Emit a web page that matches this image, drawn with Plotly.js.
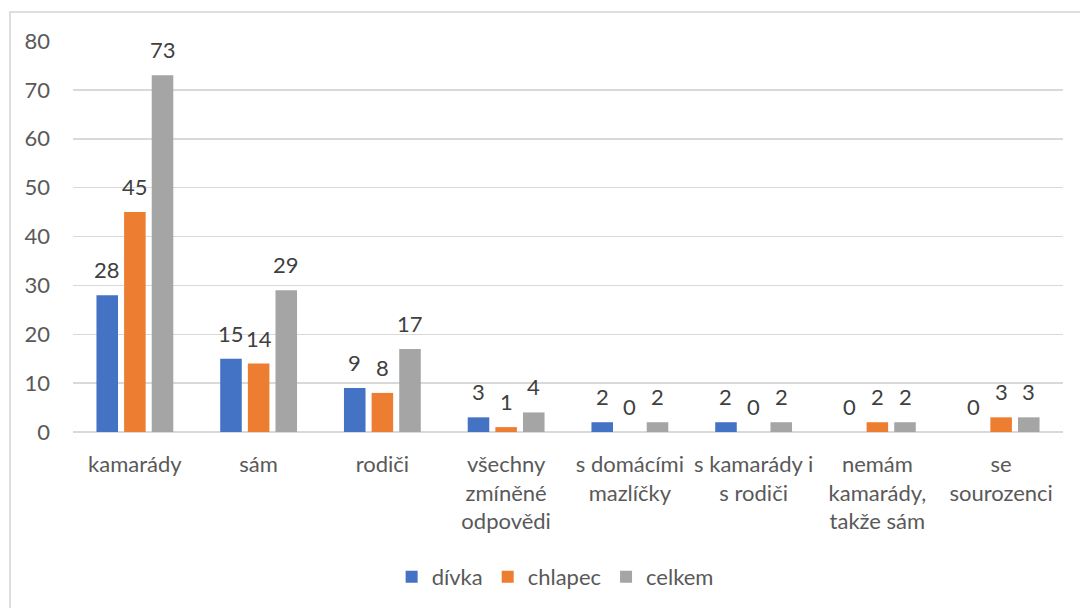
<!DOCTYPE html>
<html>
<head>
<meta charset="utf-8">
<script src="https://cdn.plot.ly/plotly-3.0.1.min.js"></script>
<style>
  html, body { margin: 0; padding: 0; background: #fff; }
  #wrap { position: relative; width: 1080px; height: 608px; overflow: hidden; }
  #chart { width: 1080px; height: 608px; }
  #frame { position: absolute; left: 9px; top: 11px; width: 1200px; height: 700px;
           border-left: 2px solid #dedede; border-top: 2px solid #dedede; pointer-events: none; }
</style>
</head>
<body>
<div id="wrap">
  <div id="chart"></div>
  <div id="frame"></div>
</div>
<script>
const categories = ["kamarády", "sám", "rodiči", "všechny zmíněné odpovědi", "s domácími mazlíčky",
                    "s kamarády i s rodiči", "nemám kamarády, takže sám", "se sourozenci"];
const tickLabels = ["kamarády", "sám", "rodiči", "všechny<br>zmíněné<br>odpovědi", "s domácími<br>mazlíčky",
                    "s kamarády i<br>s rodiči", "nemám<br>kamarády,<br>takže sám", "se<br>sourozenci"];
const seriesNames = ["dívka", "chlapec", "celkem"];
const divka   = [28, 15, 9, 3, 2, 2, 0, 0];
const chlapec = [45, 14, 8, 1, 0, 0, 2, 3];
const celkem  = [73, 29, 17, 4, 2, 2, 2, 3];
const yTicks = [0, 10, 20, 30, 40, 50, 60, 70, 80];

const seriesValues = [divka, chlapec, celkem];
const colors = ["#4472C4", "#ED7D31", "#A5A5A5"];
const FONT = "Lato, 'Open Sans', sans-serif";
const bargap = 0.33;
const slot = (1 - bargap) / seriesValues.length;

const xIdx = categories.map((c, i) => i);

const traces = seriesValues.map((vals, k) => ({
  type: "bar",
  name: seriesNames[k],
  x: xIdx,
  y: vals,
  marker: { color: colors[k], line: { width: 0 } },
  hoverinfo: "x+y+name"
}));

const annotations = [];
seriesValues.forEach((vals, k) => {
  vals.forEach((v, i) => {
    annotations.push({
      xref: "x", yref: "y",
      x: i + (k - (seriesValues.length - 1) / 2) * slot,
      y: v,
      text: String(v),
      showarrow: false,
      xanchor: "center",
      yanchor: "bottom",
      yshift: 10,
      font: { family: FONT, size: 22, color: "#404040" }
    });
  });
});

const layout = {
  width: 1080,
  height: 608,
  margin: { l: 73, r: 17, t: 41, b: 175 },
  paper_bgcolor: "#ffffff",
  plot_bgcolor: "#ffffff",
  barmode: "group",
  bargap: bargap,
  bargroupgap: 0.22,
  font: { family: FONT, size: 22, color: "#595959" },
  xaxis: {
    type: "linear",
    range: [-0.5, categories.length - 0.5],
    tickmode: "array",
    tickvals: xIdx,
    ticktext: tickLabels,
    showgrid: false,
    zeroline: false,
    showline: false,
    ticks: "",
    ticklabelstandoff: 17,
    tickfont: { family: FONT, size: 22, color: "#595959" },
    fixedrange: true
  },
  yaxis: {
    range: [0, 80],
    tickmode: "array",
    tickvals: yTicks,
    ticktext: yTicks.map(String),
    showgrid: true,
    gridcolor: "#d9d9d9",
    gridwidth: 1.5,
    zeroline: true,
    zerolinecolor: "#d9d9d9",
    zerolinewidth: 1.5,
    showline: false,
    ticks: "",
    ticklabelstandoff: 22,
    tickfont: { family: FONT, size: 22, color: "#595959" },
    fixedrange: true
  },
  showlegend: true,
  legend: {
    orientation: "h",
    x: 0.487,
    xanchor: "center",
    y: -0.367,
    yanchor: "middle",
    font: { family: FONT, size: 22, color: "#595959" },
    itemclick: false,
    itemdoubleclick: false
  },
  annotations: annotations
};

Plotly.newPlot("chart", traces, layout, { displayModeBar: false, staticPlot: true });
</script>
</body>
</html>
